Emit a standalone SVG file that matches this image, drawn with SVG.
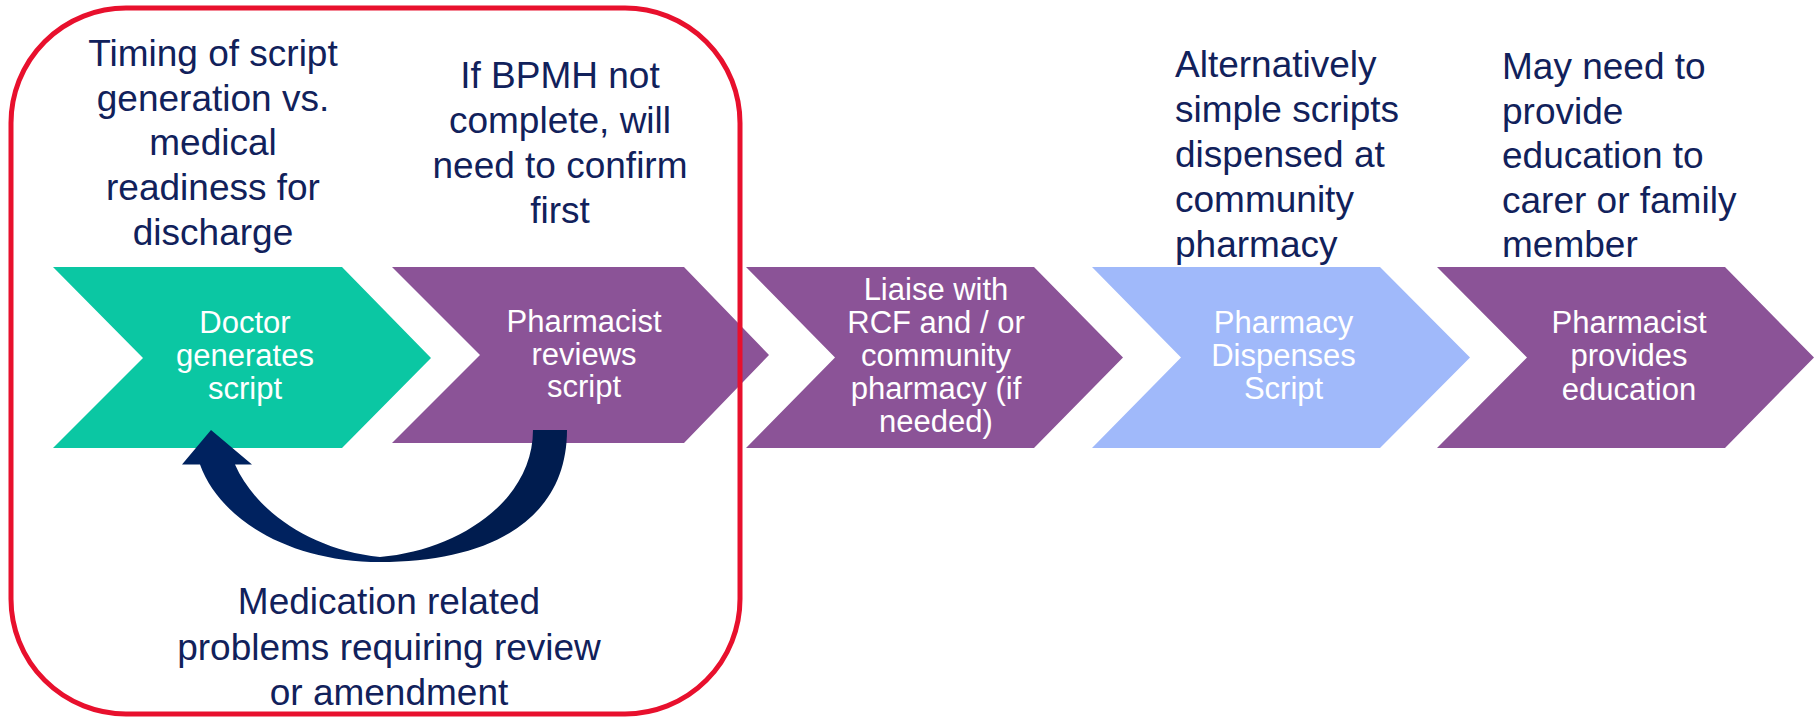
<svg xmlns="http://www.w3.org/2000/svg" width="1814" height="718" viewBox="0 0 1814 718">
<style>
.ann{font-family:"Liberation Sans",Arial,sans-serif;font-size:37px;fill:#11215B}
.lbl{font-family:"Liberation Sans",Arial,sans-serif;font-size:31px;fill:#FFFFFF;text-anchor:middle}
.mid{text-anchor:middle}
.teal{fill:#0BC7A3}
.purple{fill:#8B5397}
.blue{fill:#A0B9FA}
</style>
<rect width="1814" height="718" fill="#FFFFFF"/>
<g id="doctor">
<polygon class="teal" points="53,267 342,267 431,358 342,448 53,448 143,358"/>
<text class="lbl"><tspan x="245" y="333">Doctor</tspan><tspan x="245" y="366">generates</tspan><tspan x="245" y="399">script</tspan></text>
</g>
<g id="pharmacist-reviews">
<polygon class="purple" points="392,267 684,267 769,355 684,443 392,443 480,355"/>
<text class="lbl"><tspan x="584" y="332">Pharmacist</tspan><tspan x="584" y="364.5">reviews</tspan><tspan x="584" y="397">script</tspan></text>
</g>
<g id="liaise">
<polygon class="purple" points="746,267 1034,267 1123,357.5 1034,448 746,448 835,357.5"/>
<text class="lbl"><tspan x="936" y="300">Liaise with</tspan><tspan x="936" y="333">RCF and / or</tspan><tspan x="936" y="366">community</tspan><tspan x="936" y="399">pharmacy (if</tspan><tspan x="936" y="432">needed)</tspan></text>
</g>
<g id="pharmacy-dispenses">
<polygon class="blue" points="1092,267 1380,267 1470,357.5 1380,448 1092,448 1181,357.5"/>
<text class="lbl"><tspan x="1283.5" y="333">Pharmacy</tspan><tspan x="1283.5" y="366">Dispenses</tspan><tspan x="1283.5" y="399">Script</tspan></text>
</g>
<g id="pharmacist-educates">
<polygon class="purple" points="1437,267 1725,267 1814,357.5 1725,448 1437,448 1527,357.5"/>
<text class="lbl"><tspan x="1629" y="333">Pharmacist</tspan><tspan x="1629" y="366">provides</tspan><tspan x="1629" y="400">education</tspan></text>
</g>
<g id="note-timing">
<text class="ann mid"><tspan x="213" y="66">Timing of script</tspan><tspan x="213" y="110.5">generation vs.</tspan><tspan x="213" y="155">medical</tspan><tspan x="213" y="200">readiness for</tspan><tspan x="213" y="245">discharge</tspan></text>
</g>
<g id="note-bpmh">
<text class="ann mid"><tspan x="560" y="88">If BPMH not</tspan><tspan x="560" y="133">complete, will</tspan><tspan x="560" y="178">need to confirm</tspan><tspan x="560" y="223">first</tspan></text>
</g>
<g id="note-alternatively">
<text class="ann"><tspan x="1175" y="77">Alternatively</tspan><tspan x="1175" y="122">simple scripts</tspan><tspan x="1175" y="167">dispensed at</tspan><tspan x="1175" y="212">community</tspan><tspan x="1175" y="257">pharmacy</tspan></text>
</g>
<g id="note-education">
<text class="ann"><tspan x="1502" y="79">May need to</tspan><tspan x="1502" y="123.5">provide</tspan><tspan x="1502" y="168">education to</tspan><tspan x="1502" y="212.5">carer or family</tspan><tspan x="1502" y="257">member</tspan></text>
</g>
<g id="connectors">
<path fill="#00225F" d="M211,430 L252,464.5 L235,464.5 C255,510 310,550 380,557 L380,562 C290,562 220,520 200,464.5 L182,464.5 Z"/>
<path fill="#001C4F" d="M380,557 C460,550 533,500 533,430 L567,430 C567,520 490,562 380,562 Z"/>
</g>
<g id="note-medication">
<text class="ann mid"><tspan x="389" y="614">Medication related</tspan><tspan x="389" y="659.5">problems requiring review</tspan><tspan x="389" y="705">or amendment</tspan></text>
</g>
<g id="group-box">
<rect x="11" y="8" width="729" height="706" rx="115" ry="115" fill="none" stroke="#E8102D" stroke-width="5"/>
</g>
</svg>
